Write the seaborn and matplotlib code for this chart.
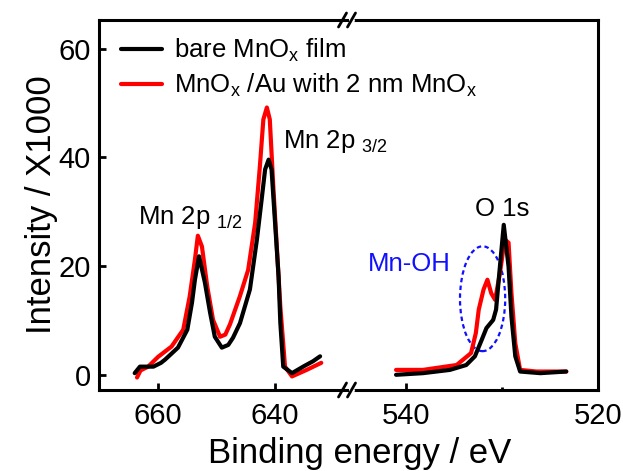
import pandas as pd
import seaborn as sns
import matplotlib.pyplot as plt
from matplotlib.patches import Ellipse
from matplotlib.lines import Line2D

# Read-off spectra (binding energy in eV, intensity / 1000)
black_mn_e = [664.0, 663.1, 661.5, 660.8, 659.5, 658.8, 657.6, 656.6, 655.0, 654.2,
              653.7, 653.0, 652.0, 651.1, 650.3, 649.1, 648.0, 647.2, 646.0, 644.3,
              643.1, 642.3, 641.7, 641.1, 640.6, 640.0, 639.4, 639.1, 638.6, 637.1,
              635.2, 633.5, 632.3]
black_mn_i = [0.3, 1.5, 1.5, 1.5, 2.2, 2.8, 4.0, 5.0, 8.3, 13.3,
              17.5, 21.8, 17.0, 11.4, 7.0, 5.0, 5.5, 6.8, 9.5, 15.7,
              24.9, 32.2, 37.8, 39.6, 37.8, 28.0, 18.1, 9.6, 1.5, 0.3,
              1.5, 2.5, 3.4]
red_mn_e = [663.6, 663.0, 661.7, 660.0, 657.7, 655.7, 654.6, 653.7, 653.2, 652.5,
            651.6, 650.6, 649.4, 648.5, 647.7, 646.0, 644.6, 643.4, 642.6, 642.0,
            641.4, 640.9, 640.3, 639.7, 639.1, 638.3, 637.1, 634.6, 632.1]
red_mn_i = [-0.5, 0.8, 1.5, 3.3, 5.2, 8.3, 14.4, 21.2, 25.6, 23.6,
            16.3, 10.1, 7.0, 7.4, 9.3, 14.5, 19.3, 28.0, 38.3, 47.0,
            49.2, 47.0, 34.7, 23.6, 12.6, 1.5, -0.3, 0.9, 2.2]

black_o_e = [541.0, 538.2, 535.4, 533.7, 532.8, 532.1, 531.6, 530.9, 530.6, 530.2,
             529.8, 529.3, 529.0, 528.6, 528.1, 526.0, 523.3]
black_o_i = [0.0, 0.3, 0.9, 1.8, 3.4, 6.4, 8.6, 10.1, 12.0, 19.9,
             27.6, 19.9, 10.7, 3.4, 0.6, 0.3, 0.6]
red_o_e = [541.0, 538.2, 534.7, 533.2, 532.7, 532.4, 531.9, 531.5, 531.1, 530.7,
           530.2, 529.7, 529.3, 529.0, 528.6, 528.1, 526.4, 523.3]
red_o_i = [0.9, 0.9, 1.8, 4.0, 7.7, 12.0, 15.7, 17.5, 15.0, 13.8,
           18.7, 24.9, 24.3, 15.0, 5.8, 0.9, 0.6, 0.6]

lab_bare = r"bare MnO$_\mathrm{x}$ film"
lab_au = r"MnO$_\mathrm{x}$ /Au with 2 nm MnO$_\mathrm{x}$"

def spectrum(e_b, i_b, e_r, i_r):
    return pd.concat([
        pd.DataFrame({"E": e_b, "I": i_b, "Sample": lab_bare}),
        pd.DataFrame({"E": e_r, "I": i_r, "Sample": lab_au}),
    ])

mn_df = spectrum(black_mn_e, black_mn_i, red_mn_e, red_mn_i)
o_df = spectrum(black_o_e, black_o_i, red_o_e, red_o_i)

sns.set_theme(style="ticks")
plt.rcParams["font.family"] = ["Liberation Sans", "DejaVu Sans"]
plt.rcParams["mathtext.fontset"] = "custom"
plt.rcParams["mathtext.rm"] = "Liberation Sans"
plt.rcParams["mathtext.it"] = "Liberation Sans:italic"
for k in ["text.color", "axes.labelcolor", "xtick.color", "ytick.color",
          "axes.edgecolor"]:
    plt.rcParams[k] = "black"

fig, (ax1, ax2) = plt.subplots(1, 2, figsize=(6.23, 4.71), dpi=100,
                               sharey=True,
                               gridspec_kw={"width_ratios": [248, 251]})
W, H = 623, 471
fig.subplots_adjust(left=99 / W, right=598 / W, top=1 - 20 / H,
                    bottom=1 - 390 / H, wspace=0)
ax2.patch.set_visible(False)
ax1.set_zorder(2)
ax1.patch.set_visible(False)

pal = {lab_bare: "black", lab_au: "#ff0000"}
for ax, d in [(ax1, mn_df), (ax2, o_df)]:
    sns.lineplot(data=d, x="E", y="I", hue="Sample",
                 hue_order=[lab_au, lab_bare], palette=pal,
                 estimator=None, lw=3, ax=ax, legend=False)
    ax.set_xlabel("")
    ax.set_ylabel("")
    for s in ax.spines.values():
        s.set_linewidth(2.2)
    ax.tick_params(direction="in", width=2, length=5, labelsize=21, pad=6)

ax1.set_xlim(670.1, 627.7)
ax2.set_xlim(546.1, 520)
ax1.set_ylim(-2.8, 65.3)
ax1.set_yticks([0, 20, 40, 60])
ax1.set_xticks([660, 640])
ax2.set_xticks([540, 520])
ax2.set_xticks([530], minor=True)
ax2.tick_params(which="minor", direction="in", length=2, width=2)
ax2.tick_params(axis="y", left=False)
ax1.tick_params(axis="x", pad=9)
ax2.tick_params(axis="x", pad=9)
ax1.spines["right"].set_visible(False)
ax2.spines["left"].set_visible(False)

ax1.set_ylabel("Intensity / X1000", fontsize=25, labelpad=0)
fig.text(360 / W, 1 - 453 / H, "Binding energy / eV", fontsize=25,
         ha="center", va="center")

# peak labels
ax1.text(663.4, 28.9, r"Mn 2p $_{1/2}$", fontsize=18.5, va="center")
ax1.text(638.6, 42.9, r"Mn 2p $_{3/2}$", fontsize=18.5, va="center")
ax2.text(530.0, 30.6, "O 1s", fontsize=18.5, ha="center", va="center")
ax2.text(539.6, 20.3, "Mn-OH", fontsize=18.5, ha="center", va="center",
         color="#1010ff")
ax2.add_patch(Ellipse((532.0, 14.0), 4.7, 19.3, fill=False,
                      edgecolor="#1010ff", lw=1.6, ls=(0, (2, 1.5))))

# legend
handles = [Line2D([], [], color="black", lw=3),
           Line2D([], [], color="#ff0000", lw=3)]
ax1.legend(handles, [lab_bare, lab_au], loc="upper left",
           bbox_to_anchor=(0.09, 0.955), frameon=False, fontsize=18.5,
           handlelength=1.6, handletextpad=0.45, labelspacing=0.3,
           borderpad=0, borderaxespad=0)

# axis break marks
bx = 347
for yy in (20, 390):
    yf = 1 - yy / H
    fig.add_artist(Line2D([(bx - 4) / W, (bx + 5) / W], [yf, yf],
                          color="white", lw=3.5, transform=fig.transFigure))
    for dx in (-4.5, 4.5):
        fig.add_artist(Line2D([(bx + dx - 4) / W, (bx + dx + 4) / W],
                              [yf - 7 / H, yf + 7 / H], color="black",
                              lw=2, transform=fig.transFigure))

fig.savefig("out.png", dpi=100)
